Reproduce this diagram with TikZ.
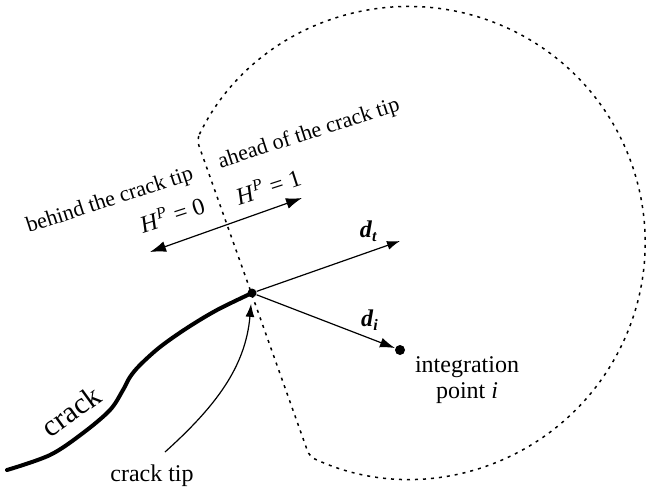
\documentclass[tikz,border=0pt]{standalone}
\usepackage{fontspec}
\setmainfont{Liberation Serif}
\usetikzlibrary{positioning, arrows.meta}

\newcommand{\hpval}[1]{\textit{H}\textsuperscript{\textit{P}} = #1}
\newcommand{\dvec}[1]{\textbf{\textit{d}}\textsubscript{\textbf{\textit{#1}}}}

\begin{document}
\begin{tikzpicture}[
        x=0.5pt, y=-0.5pt,
        txt/.style={font=\fontsize{12}{13}\selectfont, inner sep=0pt, align=center},
        smalltxt/.style={font=\fontsize{11}{13}\selectfont, inner sep=0pt},
        crack/.style={line width=2pt, line cap=round},
        zone/.style={line width=0.75pt, dash pattern=on 1.5pt off 2.5pt, rounded corners=3pt},
        arrow/.style={-{Latex[length=6.5pt, width=4.5pt]}, line width=0.6pt},
        darrow/.style={{Latex[length=8pt, width=5.5pt]}-{Latex[length=8pt, width=5.5pt]}, line width=0.6pt},
        dot/.style={circle, fill=black, inner sep=0pt, minimum size=4.5pt}
    ]
    \useasboundingbox (0,0) rectangle (646,493);

    % Nodes
    \node[dot] (tip) at (252,293) {};
    \node[dot, minimum size=5pt] (ip) at (400,350) {};
    \coordinate (dt) at (400,241);
    \coordinate (hl) at (150,252);
    \coordinate (hr) at (302,198);
    \coordinate (tipfrom) at (165,452);

    % Labels
    \node[smalltxt, rotate=18] (behind) at (110,201) {behind the crack tip};
    \node[smalltxt, rotate=18] (ahead) at (309,134) {ahead of the crack tip};
    \node[txt, rotate=18] (hzero) at (172,214) {\hpval{0}};
    \node[txt, rotate=18] (hone) at (268,186) {\hpval{1}};
    \node[txt] (dtlabel) at (369,231) {\dvec{t}};
    \node[txt] (dilabel) at (370,320) {\dvec{i}};
    \node[txt] (iplabel) at (467,380) {integration\\point \textit{i}};
    \node[txt] (tiplabel) at (152,476) {crack tip};
    \node[txt, font=\fontsize{15}{17}\selectfont, rotate=36] (cracklabel) at (71,411) {crack};

    % Crack and integration zone
    \draw[crack] plot[smooth, tension=0.55] coordinates {(7,470) (50,455) (83,433) (110,410) (123,390) (130,377) (140,365) (160,347) (187,328) (217,310) (252,293)};
    \draw[zone] (196.8,139.7) arc[start angle=205.85, end angle=475, radius=236] -- cycle;

    % Arrows
    \draw[arrow] (tip) -- (dt);
    \draw[arrow, -{Latex[length=7.5pt, width=5pt]}] (tip) -- (ip);
    \draw[darrow] (hl) -- (hr);
    \draw[arrow, shorten >=3pt] (tipfrom) to[out=42, in=-95] (tip);
\end{tikzpicture}
\end{document}
